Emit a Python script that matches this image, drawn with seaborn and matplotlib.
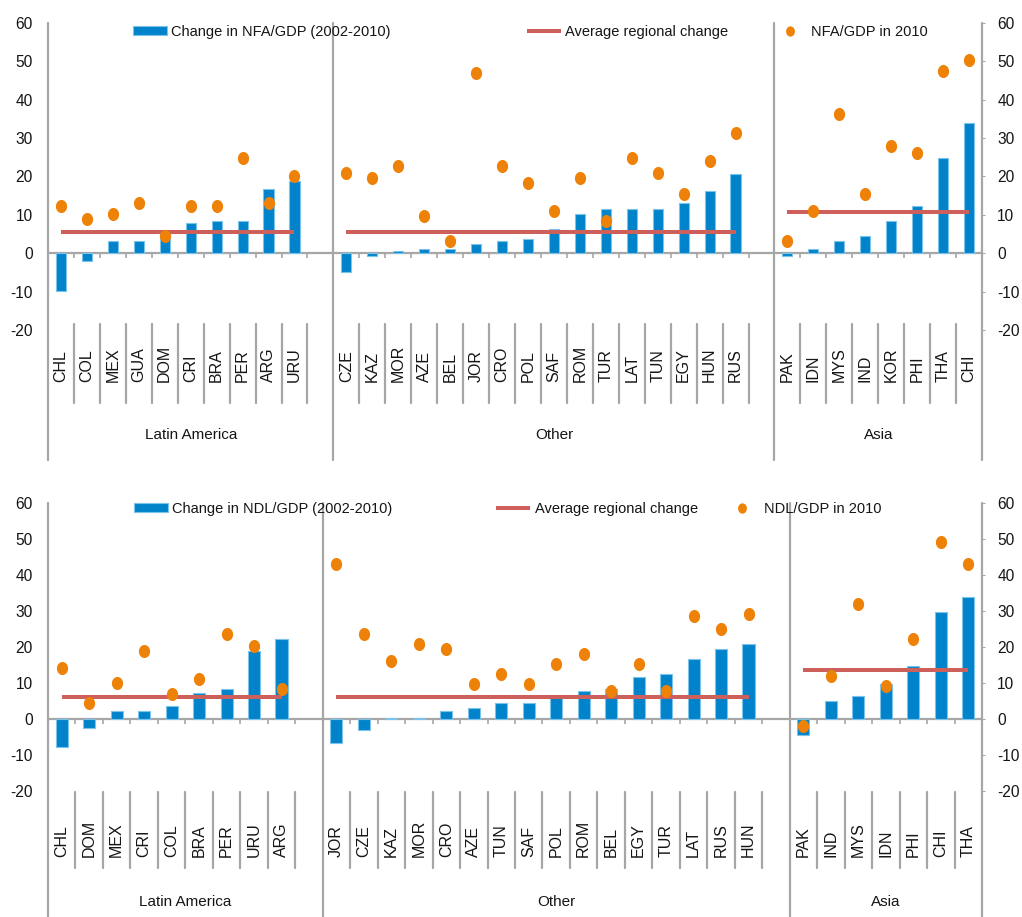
"""Change in NFA/GDP and NDL/GDP by region, 2002-2010 (bars, regional average, 2010 level)."""

import matplotlib
matplotlib.use("Agg")
import matplotlib.pyplot as plt
from matplotlib.lines import Line2D
from matplotlib.patches import Patch
import numpy as np
import pandas as pd
import seaborn as sns

# ---- data: top panel (NFA/GDP) ----
nfa_latam = ["CHL", "COL", "MEX", "GUA", "DOM", "CRI", "BRA", "PER", "ARG", "URU"]
nfa_latam_change = [-9.8, -2.1, 3.2, 3.2, 5.0, 7.8, 8.4, 8.4, 16.8, 18.9]
nfa_latam_2010 = [12.3, 9.0, 10.2, 13.0, 4.4, 12.3, 12.3, 24.8, 13.0, 20.1]

nfa_other = ["CZE", "KAZ", "MOR", "AZE", "BEL", "JOR", "CRO", "POL",
             "SAF", "ROM", "TUR", "LAT", "TUN", "EGY", "HUN", "RUS"]
nfa_other_change = [-4.8, -0.8, 0.5, 1.1, 1.1, 2.5, 3.1, 3.8,
                    6.4, 10.3, 11.6, 11.6, 11.6, 13.0, 16.2, 20.7]
nfa_other_2010 = [20.8, 19.5, 22.8, 9.7, 3.1, 46.9, 22.8, 18.2,
                  11.0, 19.5, 8.4, 24.7, 20.8, 15.5, 24.0, 31.2]

nfa_asia = ["PAK", "IDN", "MYS", "IND", "KOR", "PHI", "THA", "CHI"]
nfa_asia_change = [-0.8, 1.1, 3.2, 4.5, 8.4, 12.3, 24.7, 33.9]
nfa_asia_2010 = [3.1, 11.0, 36.3, 15.5, 28.0, 26.0, 47.5, 50.2]

nfa_avg_change = [5.6, 5.6, 10.7]

# ---- data: bottom panel (NDL/GDP) ----
ndl_latam = ["CHL", "DOM", "MEX", "CRI", "COL", "BRA", "PER", "URU", "ARG"]
ndl_latam_change = [-7.9, -2.5, 2.3, 2.3, 3.6, 7.1, 8.4, 18.8, 22.1]
ndl_latam_2010 = [14.0, 4.3, 9.9, 18.8, 7.0, 11.2, 23.6, 20.2, 8.4]

ndl_other = ["JOR", "CZE", "KAZ", "MOR", "CRO", "AZE", "TUN", "SAF",
             "POL", "ROM", "BEL", "EGY", "TUR", "LAT", "RUS", "HUN"]
ndl_other_change = [-6.7, -3.2, 0.2, 0.2, 2.2, 2.9, 4.3, 4.3,
                    6.5, 7.7, 8.3, 11.7, 12.5, 16.6, 19.3, 20.7]
ndl_other_2010 = [43.0, 23.6, 16.0, 20.8, 19.5, 9.8, 12.6, 9.8,
                  15.3, 18.1, 7.8, 15.3, 7.8, 28.5, 25.0, 29.1]

ndl_asia = ["PAK", "IND", "MYS", "IDN", "PHI", "CHI", "THA"]
ndl_asia_change = [-4.5, 5.0, 6.3, 9.8, 14.6, 29.7, 33.7]
ndl_asia_2010 = [-2.1, 11.8, 31.9, 9.0, 22.2, 49.2, 43.0]

ndl_avg_change = [6.2, 6.2, 13.6]

regions = ["Latin America", "Other", "Asia"]

BLUE = "#0083CA"
BLUE_EDGE = "#7CC3EC"
ORANGE = "#EE8208"
RED = "#CD605B"
GRAY = "#A6A6A6"
INK = "#151515"

# slightly tall oval dots, like the original
_t = np.linspace(0, 2 * np.pi, 48)
OVAL = list(zip(0.86 * np.cos(_t), np.sin(_t)))


def draw_panel(ax, groups, avgs, labels, geom):
    rows, order = [], []
    for gi, (region, names, chg, lvl) in enumerate(groups):
        for n, c, l in zip(names, chg, lvl):
            rows.append({"country": n, "region": region, "change": c, "level": l})
            order.append(n)
        if gi < len(groups) - 1:
            order.append(f"_gap{gi}")
    df = pd.DataFrame(rows)
    pos = {name: i for i, name in enumerate(order)}
    n_slots = len(order)

    sns.barplot(data=df, x="country", y="change", order=order, color=BLUE,
                saturation=1, width=geom["bar_width"], edgecolor=BLUE_EDGE,
                linewidth=0.8, errorbar=None, ax=ax, zorder=2)
    sns.stripplot(data=df, x="country", y="level", order=order, color=ORANGE,
                  size=9.4, marker=OVAL, jitter=False, linewidth=0, ax=ax,
                  zorder=4)

    # regional average lines
    for (region, names, _, _), avg in zip(groups, avgs):
        ax.plot([pos[names[0]], pos[names[-1]]], [avg, avg], color=RED,
                lw=2.9, solid_capstyle="butt", zorder=3)

    ax.set_xlim(-0.5, n_slots - 0.5)
    ax.set_ylim(-20, 60)
    ax.set_yticks(range(-20, 61, 10))
    ax.set_xlabel("")
    ax.set_ylabel("")
    sns.despine(ax=ax, left=True, right=True, top=True, bottom=True)

    ax.tick_params(axis="y", left=False, right=True, labelleft=True,
                   labelright=True, length=2, color=GRAY, pad=9,
                   labelsize=11.2, labelcolor=INK)

    countries = [n for _, names, _, _ in groups for n in names]
    ax.set_xticks([pos[n] for n in countries])
    ax.set_xticklabels(countries, rotation=90, va="bottom", ha="center",
                       fontsize=11.5, color=INK)
    ax.tick_params(axis="x", length=0, pad=geom["label_pad"])

    # zero line with small category ticks
    ax.axhline(0, color=GRAY, lw=1.6, zorder=1)
    ax.vlines([k + 0.5 for k in range(n_slots - 1)], -geom["tick_len"], 0,
              color=GRAY, lw=1.2, zorder=1)

    xform = ax.get_xaxis_transform()
    # group spans (gap slot belongs to the group on its left)
    edges = [-0.5]
    for gi, (_, names, _, _) in enumerate(groups):
        last = pos[names[-1]]
        edges.append(last + 1.5 if gi < len(groups) - 1 else last + 0.5)
    for e in edges:
        ax.plot([e, e], [geom["group_low"], 1.0], color=GRAY, lw=1.6,
                transform=xform, clip_on=False)
    for gi, region in enumerate([g[0] for g in groups]):
        lo, hi = edges[gi], edges[gi + 1]
        inner = [k + 0.5 for k in range(int(lo + 0.5), int(hi - 0.5))]
        for b in inner:
            ax.plot([b, b], [geom["sep_high"], geom["sep_low"]], color=GRAY,
                    lw=1.6, transform=xform, clip_on=False)
        ax.text((lo + hi) / 2, geom["group_y"], region, transform=xform,
                ha="center", va="center", fontsize=11, color=INK)

    # legend, three separate entries spread across the top
    bar_h = Patch(facecolor=BLUE, edgecolor=BLUE_EDGE, lw=0.8)
    line_h = Line2D([], [], color=RED, lw=2.9, solid_capstyle="butt")
    dot_h = Line2D([], [], color=ORANGE, marker=OVAL, ls="none", markersize=7.4,
                   markeredgewidth=0)
    entries = list(zip([bar_h, line_h, dot_h], labels, geom["legend_x"]))
    for i, (handle, text, x) in enumerate(entries):
        leg = ax.legend([handle], [text], loc="center left",
                        bbox_to_anchor=(x, geom["legend_y"]), frameon=False,
                        borderpad=0, borderaxespad=0, handlelength=2.33,
                        handleheight=0.55, handletextpad=0.3,
                        prop={"size": 10.5}, labelcolor=INK)
        if i < len(entries) - 1:
            ax.add_artist(leg)


sns.set_style("white")
plt.rcParams["font.family"] = ["Liberation Sans", "DejaVu Sans"]
plt.rcParams["axes.unicode_minus"] = False

fig = plt.figure(figsize=(10.22, 9.17), dpi=100)
ax_top = fig.add_axes([48 / 1022, 1 - 330 / 917, 934 / 1022, 307.3 / 917])
ax_bot = fig.add_axes([48 / 1022, 1 - 791 / 917, 934 / 1022, 288.3 / 917])

nfa_groups = [
    (regions[0], nfa_latam, nfa_latam_change, nfa_latam_2010),
    (regions[1], nfa_other, nfa_other_change, nfa_other_2010),
    (regions[2], nfa_asia, nfa_asia_change, nfa_asia_2010),
]
ndl_groups = [
    (regions[0], ndl_latam, ndl_latam_change, ndl_latam_2010),
    (regions[1], ndl_other, ndl_other_change, ndl_other_2010),
    (regions[2], ndl_asia, ndl_asia_change, ndl_asia_2010),
]

draw_panel(ax_top, nfa_groups, nfa_avg_change,
           ["Change in NFA/GDP (2002-2010)", "Average regional change", "NFA/GDP in 2010"],
           {"bar_width": 0.39, "tick_len": 1.3, "label_pad": 37.4,
            "sep_high": 0.0195, "sep_low": -0.2376, "group_low": -0.423,
            "group_y": -0.342, "legend_y": 0.970,
            "legend_x": [0.091, 0.513, 0.776]})

draw_panel(ax_bot, ndl_groups, ndl_avg_change,
           ["Change in NDL/GDP (2002-2010)", "Average regional change", "NDL/GDP in 2010"],
           {"bar_width": 0.44, "tick_len": 1.4, "label_pad": 47.5,
            "sep_high": -0.0035, "sep_low": -0.267, "group_low": -0.437,
            "group_y": -0.385, "legend_y": 0.979,
            "legend_x": [0.092, 0.480, 0.725]})

fig.savefig("out.png", dpi=100)
